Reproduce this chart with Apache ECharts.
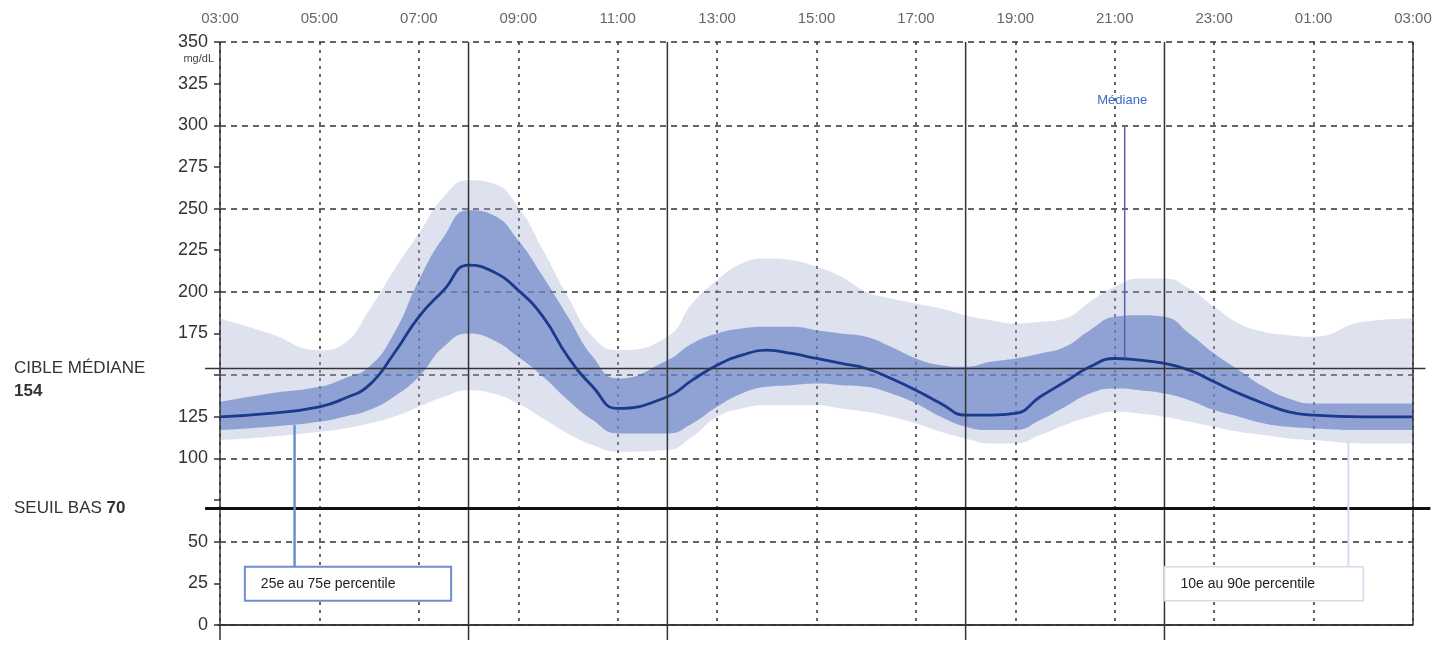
<!DOCTYPE html>
<html><head><meta charset="utf-8">
<script src="https://cdn.jsdelivr.net/npm/echarts@6/dist/echarts.min.js"></script>
<style>html,body{margin:0;padding:0;background:#fff}#c{width:1448px;height:648px}</style>
</head><body><div id="c"></div>
<script>
// hours after 03:00
const hours = [0,1,2,2.5,3,3.5,4,4.5,5,5.5,6,6.5,7,7.5,8,9,9.5,10,10.5,11,11.5,12,12.5,13,13.5,14,14.5,15,15.5,16,16.5,17,17.5,18,18.5,19,19.5,20,20.5,21,21.5,22,23,24];
const p50 = [125,127,131,136,144,163,185,201,216,212,201,185,161,143,130,137,147,156,162,165,163,160,157,154,148,141,133,126,126,127,137,146,155,160,159,157,153,146,139,133,128,126,125,125];
const p25 = [117,119,122,125,129,137,149,167,175,171,161,149,135,123,115,115,121,131,139,143,144,145,144,143,139,133,125,119,117,117,123,131,139,142,141,139,135,129,125,121,119,118,117,117];
const p75 = [134,139,143,148,155,175,207,233,249,246,231,209,185,161,148,159,169,175,178,179,179,177,175,173,167,160,156,155,158,160,163,167,177,185,186,185,175,163,153,143,136,133,133,133];
const p90 = [184,175,165,169,189,213,235,257,267,265,251,225,197,173,165,173,193,207,217,220,219,215,209,200,196,193,190,186,183,181,182,184,194,203,208,208,202,191,181,176,174,173,182,184];
const p10 = [111,113,116,118,121,125,131,137,141,139,133,124,115,108,104,105,113,125,130,132,132,132,130,128,125,121,116,112,109,109,114,120,125,128,127,125,122,119,116,114,112,111,109,109];
const xTickLabels = ['03:00','05:00','07:00','09:00','11:00','13:00','15:00','17:00','19:00','21:00','23:00','01:00','03:00'];
const hiddenYLabels = [150, 75];
const targetMedian = 154;
const lowThreshold = 70;
const solidHours = [5, 9, 15, 19];
const medianNoteHour = 18.2;

const FONT = '"Liberation Sans", Arial, sans-serif';
const chart = echarts.init(document.getElementById('c'));
// data rows are [value, hour] so the stack runs on the value dimension
const rows = arr => hours.map((h, i) => [arr[i], h]);
const diff = (a, b) => hours.map((h, i) => [a[i] - b[i], h]);
const common = {type: 'line', symbol: 'none', smooth: 0.5, silent: true, encode: {x: 1, y: 0}};

chart.setOption({
  animation: false,
  grid: {left: 220, right: 35, top: 42, bottom: 23},
  xAxis: {
    type: 'value', min: 0, max: 24, interval: 2, position: 'top',
    axisLine: {show: true, lineStyle: {color: '#333', width: 1.5}},
    axisTick: {show: false},
    axisLabel: {margin: 16, fontSize: 15, color: '#666', fontFamily: FONT,
      formatter: v => xTickLabels[Math.round(v / 2)]},
    splitLine: {show: true, lineStyle: {color: '#333', width: 1.5, type: [3, 5]}}
  },
  yAxis: {
    type: 'value', min: 0, max: 350, interval: 25,
    axisLine: {show: false},
    axisTick: {show: true, length: 6, lineStyle: {color: '#333', width: 1.5}},
    axisLabel: {margin: 12, fontSize: 18, color: '#333', fontFamily: FONT,
      formatter: v => hiddenYLabels.includes(v) ? '' : String(v)},
    splitLine: {show: true, lineStyle: {color: ['#333', 'transparent'], width: 1.5, type: [6, 5]}}
  },
  series: [
    Object.assign({}, common, {name: 'b10', stack: 'outer', data: rows(p10), lineStyle: {opacity: 0}}),
    Object.assign({}, common, {name: '10-90', stack: 'outer', data: diff(p90, p10), lineStyle: {opacity: 0},
      areaStyle: {color: 'rgba(160,172,210,0.35)', opacity: 1}}),
    Object.assign({}, common, {name: 'b25', stack: 'inner', data: rows(p25), lineStyle: {opacity: 0}}),
    Object.assign({}, common, {name: '25-75', stack: 'inner', data: diff(p75, p25), lineStyle: {opacity: 0},
      areaStyle: {color: 'rgba(95,125,195,0.62)', opacity: 1}}),
    Object.assign({}, common, {name: 'Médiane', data: rows(p50), lineStyle: {color: '#1b3a8c', width: 2.8}, z: 5})
  ]
});

const px = (h, v) => chart.convertToPixel({gridIndex: 0}, [h, v]);
const g = [];
const line = (a, b, stroke, w) => g.push({type: 'line', z: 100, silent: true,
  shape: {x1: a[0], y1: a[1], x2: b[0], y2: b[1]}, style: {stroke: stroke, lineWidth: w}});
const text = (x, y, t, opts) => g.push({type: 'text', z: 110, silent: true, x: x, y: y,
  style: Object.assign({text: t, font: '18px ' + FONT, fill: '#333', align: 'left', verticalAlign: 'middle'}, opts || {})});

// frame
line(px(0, 350), px(0, -9), '#333', 1.5);
line(px(24, 350), px(24, 0), '#333', 1.5);
line(px(-0.05, 0), px(24, 0), '#333', 1.5);
solidHours.forEach(h => line(px(h, 350), px(h, -9), '#333', 1.5));
line(px(-0.3, targetMedian), px(24.25, targetMedian), '#333', 1.5);
line(px(-0.3, lowThreshold), px(24.35, lowThreshold), '#111', 3);

// left annotations
const yT = px(0, targetMedian)[1], yL = px(0, lowThreshold)[1];
text(14, yT, 'CIBLE MÉDIANE', {font: '17px ' + FONT});
text(14, yT + 23, '154', {font: 'bold 17px ' + FONT});
text(14, yL, 'SEUIL BAS {b|70}', {font: '17px ' + FONT, rich: {b: {font: 'bold 17px ' + FONT, fill: '#333'}}});
const unitPos = px(0, 340);
text(unitPos[0] - 6, unitPos[1], 'mg/dL', {font: '11px ' + FONT, fill: '#444', align: 'right'});

// Médiane annotation
const mIdx = hours.indexOf(18);
line(px(medianNoteHour, 300), px(medianNoteHour, p50[mIdx]), '#5a5fb0', 1.5);
const mt = px(medianNoteHour - 0.05, 315);
text(mt[0], mt[1], 'Médiane', {font: '13px ' + FONT, fill: '#3b6cc0', align: 'center'});

// legend boxes
function box(h0, h1, hc, vTop, label, stroke, lw) {
  const a = px(h0, 35), b = px(h1, 14.5);
  line(px(hc, vTop), px(hc, 35), stroke, lw + 0.5);
  g.push({type: 'rect', z: 105, silent: true, shape: {x: a[0], y: a[1], width: b[0] - a[0], height: b[1] - a[1]},
    style: {fill: '#fff', stroke: stroke, lineWidth: lw}});
  text(a[0] + 16, (a[1] + b[1]) / 2, label, {font: '14px ' + FONT, fill: '#222'});
}
box(0.5, 4.65, 1.5, 120, '25e au 75e percentile', '#6a8fd0', 2);
box(19, 23, 22.7, 110, '10e au 90e percentile', '#d5dbee', 1.5);

chart.setOption({graphic: g});
</script></body></html>
